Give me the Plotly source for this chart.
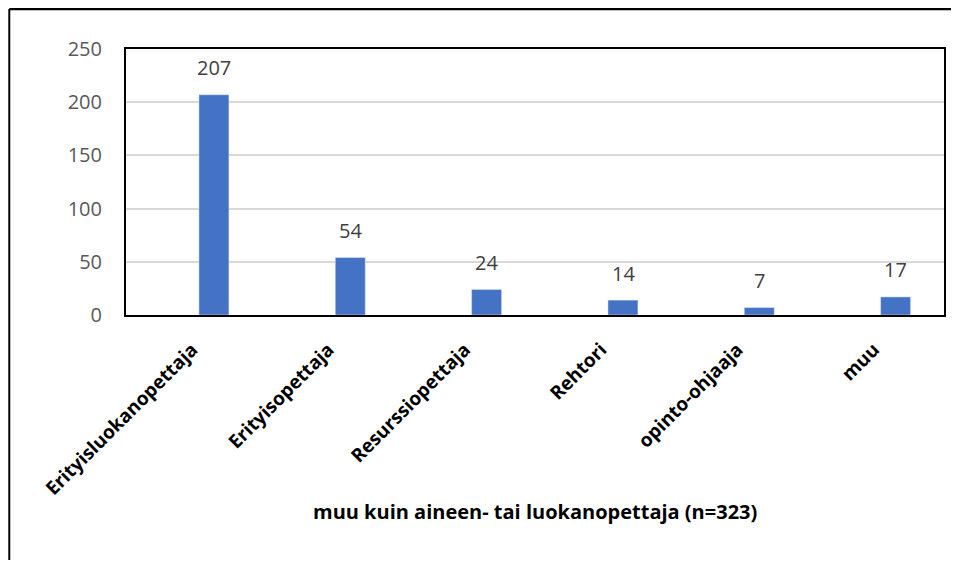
import plotly.graph_objects as go

categories = ["Erityisluokanopettaja", "Erityisopettaja", "Resurssiopettaja",
              "Rehtori", "opinto-ohjaaja", "muu"]
counts = [207, 54, 24, 14, 7, 17]
x_title = "muu kuin aineen- tai luokanopettaja (n=323)"

# page body has an 8px margin, so work in div coordinates
W, H = 943, 552
L, R, T, B = 118, 5, 41, 245
pw, ph = W - L - R, H - T - B

fig = go.Figure()
fig.add_trace(go.Bar(
    x=categories, y=counts,
    marker_color="#4472C4",
    width=0.22, offset=0.035,
))

# data labels above bars
for c, v in zip(categories, counts):
    fig.add_annotation(x=c, y=v, text=str(v), showarrow=False,
                       xshift=20, yshift=27,
                       font=dict(family="Open Sans", size=20, color="#404040"))

fig.add_annotation(x=0.5, y=(T + ph - 519) / ph, xref="paper", yref="paper",
                   text="<b>" + x_title + "</b>", showarrow=False,
                   font=dict(family="Open Sans", size=20, color="black"))

# outer frame (left + top edges)
fx = (1 - L) / pw
fy = 1 + (T - 1) / ph
fig.add_shape(type="line", xref="paper", yref="paper",
              x0=fx, y0=-B / ph - 0.1, x1=fx, y1=fy,
              line=dict(color="black", width=2))
fig.add_shape(type="line", xref="paper", yref="paper",
              x0=fx, y0=fy, x1=(W - L) / pw + 0.1, y1=fy,
              line=dict(color="black", width=2.5))

fig.update_layout(
    width=W, height=H,
    margin=dict(l=L, r=R, t=T, b=B),
    plot_bgcolor="white", paper_bgcolor="white",
    showlegend=False,
    font=dict(family="Open Sans"),
)
fig.update_xaxes(
    tickangle=-45, ticklabelshift=-2, ticklabelstandoff=14,
    tickfont=dict(family="Open Sans", size=19, color="black", weight="bold"),
    showline=True, mirror=True, linecolor="black", linewidth=2,
    ticks="", showgrid=False,
)
fig.update_yaxes(
    range=[0, 250], dtick=50,
    tickfont=dict(family="Open Sans", size=20, color="#595959"),
    showline=True, mirror=True, linecolor="black", linewidth=2,
    gridcolor="#d9d9d9", gridwidth=1.5, zeroline=False,
    ticks="outside", ticklen=18, tickcolor="white",
)

fig.write_html("out.html")
